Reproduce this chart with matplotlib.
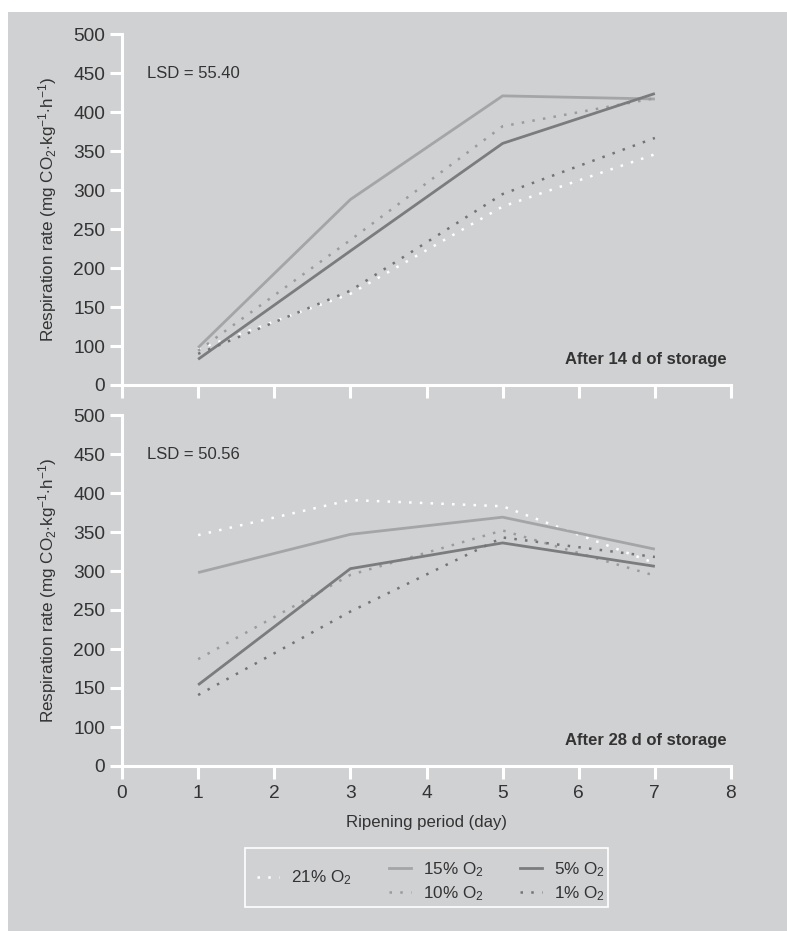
import numpy as np
import matplotlib
matplotlib.use('Agg')
import matplotlib.pyplot as plt
from matplotlib.lines import Line2D
from matplotlib.patches import Rectangle

plt.rcParams['font.family'] = ['Liberation Sans', 'DejaVu Sans']
plt.rcParams['mathtext.fontset'] = 'custom'
plt.rcParams['mathtext.rm'] = 'Liberation Sans'
plt.rcParams['mathtext.it'] = 'Liberation Sans:italic'
plt.rcParams['mathtext.bf'] = 'Liberation Sans:bold'

# Ripening days sampled
days = [1, 3, 5, 7]

# Respiration rate after 14 d of storage
r14_21 = [96, 167, 279, 346]
r14_15 = [98, 288, 421, 417]
r14_10 = [94, 236, 382, 418]
r14_5 = [83, 222, 360, 424]
r14_1 = [90, 171, 295, 367]

# Respiration rate after 28 d of storage
r28_21 = [346, 391, 383, 310]
r28_15 = [298, 347, 369, 328]
r28_10 = [187, 295, 352, 294]
r28_5 = [154, 303, 336, 306]
r28_1 = [141, 248, 343, 318]

# y ticks: the bottom tick carries the label "0"
ytick_pos = [50, 100, 150, 200, 250, 300, 350, 400, 450, 500]
ytick_lab = ['0', '100', '150', '200', '250', '300', '350', '400', '450', '500']

lsd = ['LSD = 55.40', 'LSD = 50.56']
titles = ['After 14 d of storage', 'After 28 d of storage']
labels = ['21% O$_2$', '15% O$_2$', '10% O$_2$', '5% O$_2$', '1% O$_2$']

bg = '#d0d1d3'
txt = '#333333'
dots = (0, (1.0, 3.3))
styles = [
    dict(color='white', lw=1.8, ls=dots),
    dict(color='#a4a5a7', lw=2.0, ls='-'),
    dict(color='#9a9b9d', lw=1.8, ls=dots),
    dict(color='#7b7c7e', lw=2.0, ls='-'),
    dict(color='#737476', lw=1.8, ls=dots),
]

fig = plt.figure(figsize=(7.87, 9.31), dpi=100)
fig.patch.set_facecolor('white')
fig.add_artist(Rectangle((8 / 787, 0), 1, 1 - 12 / 931, transform=fig.transFigure,
                         facecolor=bg, edgecolor='none', zorder=0))

W, H = 787, 931
ax_top = fig.add_axes([122 / W, 1 - 385 / H, 609 / W, 350.7 / H])
ax_bot = fig.add_axes([122 / W, 1 - 766 / H, 609 / W, 351 / H])

panels = [
    (ax_top, [r14_21, r14_15, r14_10, r14_5, r14_1]),
    (ax_bot, [r28_21, r28_15, r28_10, r28_5, r28_1]),
]

for i, (ax, series) in enumerate(panels):
    ax.set_facecolor('none')
    for vals, st in zip(series, styles):
        ax.plot(days, vals, color=st['color'], lw=st['lw'], linestyle=st['ls'],
                solid_capstyle='butt')
    ax.set_xlim(0, 8)
    ax.set_ylim(50, 500)
    ax.set_yticks(ytick_pos)
    ax.set_yticklabels(ytick_lab)
    ax.set_xticks(range(0, 9))
    for s in ['top', 'right']:
        ax.spines[s].set_visible(False)
    for s in ['left', 'bottom']:
        ax.spines[s].set_color('white')
        ax.spines[s].set_linewidth(2.2)
    ax.tick_params(axis='both', colors='white', width=2.2, length=8.5,
                   labelcolor=txt, labelsize=13.8, pad=3.5)
    ax.tick_params(axis='x', length=9)
    ax.set_ylabel('Respiration rate (mg CO$_2$$\\cdot$kg$^{-1}$$\\cdot$h$^{-1}$)',
                  fontsize=12.3, color=txt, labelpad=10)
    ax.text(0.33, 450, lsd[i], fontsize=12, color=txt, va='center', ha='left')
    ax.text(7.94, 83, titles[i], fontsize=12, color=txt, fontweight='bold',
            va='center', ha='right')
    ax.set_zorder(2)

ax_top.tick_params(axis='x', labelbottom=False)
ax_bot.tick_params(axis='x', pad=5)
ax_bot.set_xlabel('Ripening period (day)', fontsize=12.1, color=txt, labelpad=9)

# legend: 21% alone on the left, the other four in two columns
handles = [Line2D([], [], color=st['color'], lw=st['lw'], linestyle=st['ls'])
           for st in styles]
leg_kw = dict(frameon=False, fontsize=12.3, handlelength=1.3, handletextpad=0.7,
              borderpad=0, borderaxespad=0, labelcolor=txt)
leg1 = fig.legend([handles[0]], [labels[0]], loc='center left',
                  bbox_to_anchor=(257 / W, 1 - 878 / H), **leg_kw)
leg2 = fig.legend(handles[1:], labels[1:], ncol=2, loc='center left',
                  bbox_to_anchor=(389 / W, 1 - 881.5 / H), columnspacing=2.1,
                  labelspacing=0.3, **leg_kw)
fig.add_artist(Rectangle((245 / W, 1 - 907 / H), 363 / W, 59 / H,
                         transform=fig.transFigure, facecolor='none',
                         edgecolor='white', lw=1.2, zorder=3))

fig.savefig('out.png', dpi=100, facecolor=fig.get_facecolor())
